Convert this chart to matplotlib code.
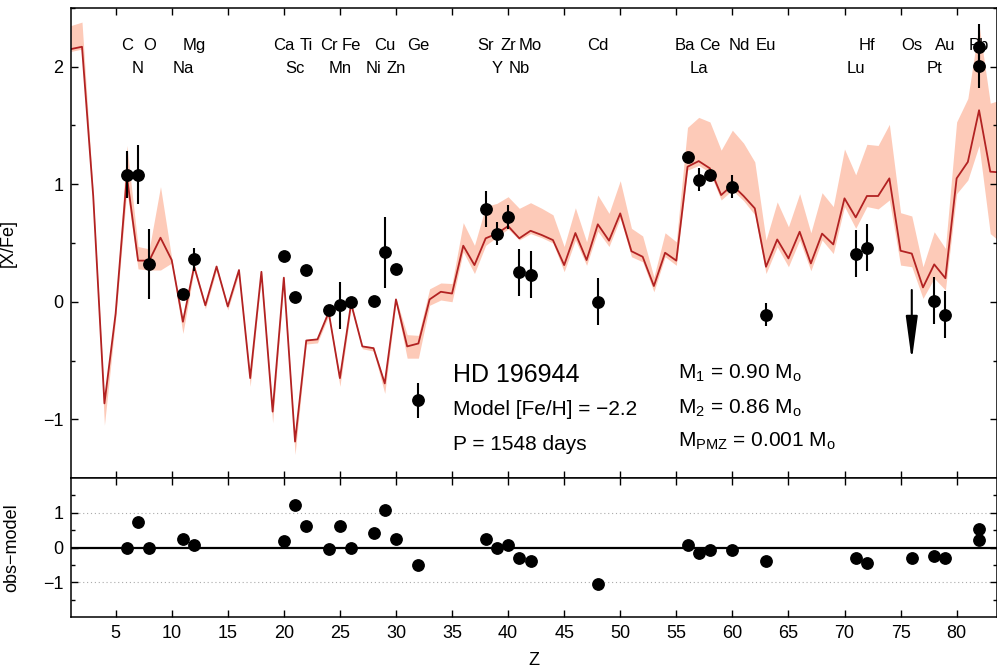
import numpy as np
import matplotlib
matplotlib.use("Agg")
import matplotlib.pyplot as plt
from matplotlib.ticker import MultipleLocator, FixedLocator

plt.rcParams['font.family'] = ['Liberation Sans', 'DejaVu Sans']
plt.rcParams['mathtext.fontset'] = 'custom'
plt.rcParams['mathtext.rm'] = 'Liberation Sans'

# ---------------- data ----------------
model_Z = list(range(1, 85))
model_val = [2.15, 2.17, 0.90, -0.865, -0.10, 1.07, 0.35, 0.35, 0.545, 0.355,
             -0.17, 0.30, -0.03, 0.30, -0.04, 0.27, -0.65, 0.255, -0.935, 0.205,
             -1.19, -0.33, -0.32, -0.09, -0.65, -0.015, -0.38, -0.395, -0.695, 0.02,
             -0.38, -0.355, 0.02, 0.085, 0.07, 0.477, 0.312, 0.54, 0.58, 0.644,
             0.54, 0.604, 0.568, 0.525, 0.312, 0.585, 0.355, 0.659, 0.52, 0.752,
             0.43, 0.383, 0.134, 0.417, 0.35, 1.149, 1.197, 1.135, 0.908, 0.993,
             0.90, 0.795, 0.298, 0.53, 0.369, 0.596, 0.326, 0.58, 0.488, 0.88,
             0.718, 0.90, 0.90, 1.05, 0.434, 0.41, 0.122, 0.318, 0.20, 1.05,
             1.19, 1.63, 1.107, 1.10]
model_upper = [2.35, 2.38, 0.92, -0.84, -0.08, 1.33, 0.47, 0.45, 0.98, 0.37,
               -0.15, 0.32, -0.02, 0.31, -0.03, 0.28, -0.64, 0.27, -0.92, 0.22,
               -1.18, -0.32, -0.31, -0.08, -0.64, 0.0, -0.37, -0.385, -0.685, 0.03,
               -0.28, -0.286, 0.11, 0.16, 0.155, 0.673, 0.48, 0.81, 0.837, 0.894,
               0.795, 0.843, 0.795, 0.74, 0.47, 0.80, 0.51, 0.908, 0.752, 1.03,
               0.625, 0.56, 0.21, 0.587, 0.51, 1.484, 1.569, 1.53, 1.29, 1.46,
               1.35, 1.19, 0.525, 0.85, 0.638, 0.92, 0.587, 0.928, 0.81, 1.30,
               1.08, 1.34, 1.33, 1.51, 0.758, 0.73, 0.298, 0.596, 0.454, 1.53,
               1.73, 2.355, 1.69, 1.72]
model_lower = [2.13, 2.15, 0.88, -1.05, -0.15, 0.95, 0.28, 0.27, 0.27, 0.33,
               -0.27, 0.27, -0.06, 0.27, -0.07, 0.24, -0.72, 0.23, -1.03, 0.18,
               -1.30, -0.36, -0.35, -0.12, -0.72, -0.05, -0.40, -0.42, -0.78, -0.01,
               -0.48, -0.48, -0.03, 0.015, 0.0, 0.425, 0.24, 0.48, 0.55, 0.62,
               0.526, 0.58, 0.545, 0.50, 0.256, 0.525, 0.31, 0.60, 0.47, 0.71,
               0.383, 0.34, 0.085, 0.383, 0.31, 1.12, 1.16, 1.10, 0.866, 0.95,
               0.86, 0.74, 0.24, 0.468, 0.298, 0.525, 0.264, 0.525, 0.41, 0.81,
               0.625, 0.81, 0.79, 0.866, 0.312, 0.298, 0.029, 0.2, 0.1, 0.92,
               1.036, 1.33, 0.58, 0.50]

obs_Z = [6, 7, 8, 11, 12, 20, 21, 22, 24, 25, 26, 28, 29, 30, 32, 38, 39, 40, 41, 42,
         48, 56, 57, 58, 60, 63, 71, 72, 78, 79, 82, 82]
obs_val = [1.08, 1.08, 0.32, 0.07, 0.36, 0.39, 0.04, 0.27, -0.07, -0.03, 0.0, 0.01,
           0.42, 0.28, -0.84, 0.79, 0.58, 0.72, 0.25, 0.23, 0.0, 1.23, 1.04, 1.08,
           0.98, -0.11, 0.41, 0.46, 0.01, -0.11, 2.17, 2.01]
obs_err = [0.2, 0.25, 0.3, 0, 0.1, 0, 0, 0, 0, 0.2, 0, 0, 0.3, 0, 0.15, 0.15, 0.1,
           0.1, 0.2, 0.2, 0.2, 0, 0.1, 0, 0.1, 0.1, 0.2, 0.2, 0.2, 0.2, 0.19, 0.19]

limit_Z = [76]
limit_val = [0.1]

res_Z = [6, 7, 8, 11, 12, 20, 21, 22, 24, 25, 26, 28, 29, 30, 32, 38, 39, 40, 41, 42,
         48, 56, 57, 58, 60, 63, 71, 72, 76, 78, 79, 82, 82]
res_val = [0.0, 0.73, -0.02, 0.245, 0.06, 0.18, 1.23, 0.605, -0.05, 0.615, 0.0, 0.405,
           1.07, 0.255, -0.5, 0.255, 0.0, 0.075, -0.295, -0.38, -1.06, 0.075, -0.15,
           -0.06, -0.077, -0.39, -0.31, -0.45, -0.295, -0.24, -0.31, 0.52, 0.217]

row1_el = ['C', 'O', 'Mg', 'Ca', 'Ti', 'Cr', 'Fe', 'Cu', 'Ge', 'Sr', 'Zr', 'Mo', 'Cd',
           'Ba', 'Ce', 'Nd', 'Eu', 'Hf', 'Os', 'Au', 'Pb']
row1_Z = [6, 8, 12, 20, 22, 24, 26, 29, 32, 38, 40, 42, 48, 56, 58, 60, 63, 72, 76, 79, 82]
row2_el = ['N', 'Na', 'Sc', 'Mn', 'Ni', 'Zn', 'Y', 'Nb', 'La', 'Lu', 'Pt']
row2_Z = [7, 11, 21, 25, 28, 30, 39, 41, 57, 71, 78]

# small horizontal nudges of a few labels to avoid overlap (layout only)
label_nudge = {'Ba': -0.2, 'Nd': 0.6}

# ---------------- figure ----------------
fig = plt.figure(figsize=(9.97, 6.71), dpi=100)
ax1 = fig.add_axes([0.0710, 0.2876, 0.929, 0.7005])
ax2 = fig.add_axes([0.0710, 0.0805, 0.929, 0.2071], sharex=ax1)

band_col = '#fdcab8'
line_col = '#b22222'

ax1.fill_between(model_Z, model_lower, model_upper, color=band_col, lw=0, zorder=1)
ax1.plot(model_Z, model_val, color=line_col, lw=1.3, zorder=2)

oz = np.array(obs_Z); ov = np.array(obs_val); oe = np.array(obs_err)
ax1.errorbar(oz, ov, yerr=oe, fmt='o', color='black', ms=8.2, elinewidth=1.5,
             capsize=0, zorder=4)

for z, v in zip(limit_Z, limit_val):
    ax1.annotate('', xy=(z, v - 0.6), xytext=(z, v),
                 arrowprops=dict(arrowstyle='-|>,head_length=1.33,head_width=0.18',
                                 color='black', lw=1.5, shrinkA=0, shrinkB=0,
                                 mutation_scale=20), zorder=4)

for el, z in zip(row1_el, row1_Z):
    ax1.text(z + label_nudge.get(el, 0.0), 2.14, el, ha='center', va='baseline',
             fontsize=12)
for el, z in zip(row2_el, row2_Z):
    ax1.text(z + label_nudge.get(el, 0.0), 1.944, el, ha='center', va='baseline',
             fontsize=12)

ax1.text(35.07, -0.68, 'HD 196944', fontsize=18, va='baseline', ha='left')
ax1.text(35.07, -0.964, 'Model [Fe/H] = \u22122.2', fontsize=15, va='baseline', ha='left')
ax1.text(35.07, -1.262, 'P = 1548 days', fontsize=15, va='baseline', ha='left')
ax1.text(55.17, -0.652, r'M$_\mathregular{1}$ = 0.90 M$_\mathregular{o}$', fontsize=15,
         va='baseline', ha='left')
ax1.text(55.17, -0.95, r'M$_\mathregular{2}$ = 0.86 M$_\mathregular{o}$', fontsize=15,
         va='baseline', ha='left')
ax1.text(55.17, -1.234, r'M$_\mathregular{PMZ}$ = 0.001 M$_\mathregular{o}$', fontsize=15,
         va='baseline', ha='left')

ax1.set_xlim(1, 83.6)
ax1.set_ylim(-1.5, 2.5)
ax1.yaxis.set_major_locator(MultipleLocator(1))
ax1.yaxis.set_minor_locator(MultipleLocator(0.5))
ax1.xaxis.set_major_locator(MultipleLocator(5))
ax1.set_ylabel('[X/Fe]', fontsize=13)
ax1.yaxis.set_label_coords(-0.058, 0.5)
ax1.tick_params(axis='x', labelbottom=False)

# residual panel
ax2.axhline(0, color='black', lw=1.6, zorder=2)
for yv in (1, -1):
    ax2.axhline(yv, color='#aaaaaa', lw=0.8, ls=(0, (1, 2.5)), zorder=1)
ax2.plot(res_Z, res_val, 'o', color='black', ms=8.2, zorder=3)
ax2.set_ylim(-2, 2)
ax2.yaxis.set_major_locator(FixedLocator([-1, 0, 1]))
ax2.yaxis.set_minor_locator(FixedLocator([-1.5, -0.5, 0.5, 1.5]))
ax2.set_ylabel('obs\u2212model', fontsize=13)
ax2.yaxis.set_label_coords(-0.055, 0.5)
ax2.set_xlabel('Z', fontsize=13)
ax2.xaxis.set_label_coords(0.5, -0.31)
ax2.xaxis.label.set_va('center')

for ax in (ax1, ax2):
    ax.tick_params(which='both', direction='in', top=True, right=True,
                   labelsize=13, width=1.0)
    ax.tick_params(which='major', length=5, pad=5.5)
    ax.tick_params(which='minor', length=3)
    for s in ax.spines.values():
        s.set_linewidth(1.1)

fig.savefig('out.png', dpi=100)
